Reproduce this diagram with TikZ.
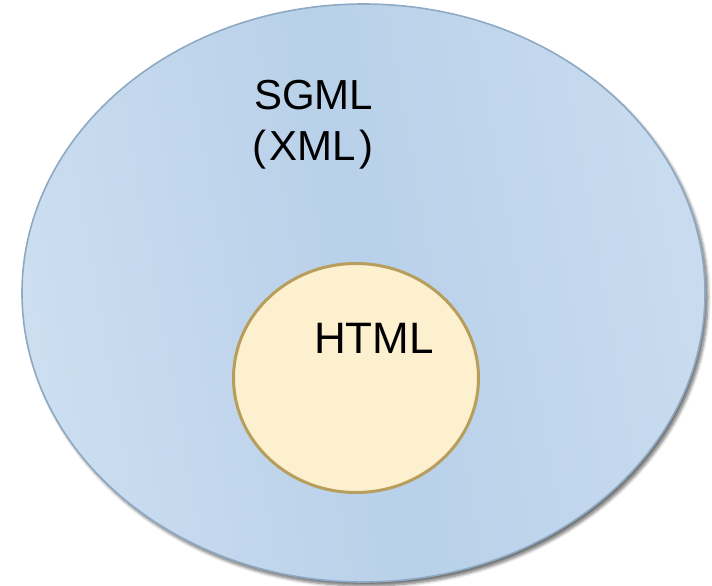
\documentclass[tikz,border=0pt]{standalone}
\usepackage{fontspec}
\setmainfont{Liberation Sans}
\usetikzlibrary{shapes.geometric,shadows.blur}
\definecolor{outerL}{HTML}{CCDEF0}
\definecolor{outerM}{HTML}{B8D0E9}
\definecolor{outerR}{HTML}{C9DCEF}
\definecolor{outerEdge}{HTML}{8EA9C4}
\definecolor{innerFill}{HTML}{FDF0CF}
\definecolor{innerEdge}{HTML}{B89E5C}
\tikzset{
  outerset/.style={ellipse, minimum width=683pt, minimum height=578pt,
    draw=outerEdge, line width=1.6pt,
    left color=outerL, right color=outerR, middle color=outerM, shading angle=100,
    blur shadow={shadow xshift=3pt, shadow yshift=-4pt, shadow blur steps=6, shadow blur radius=3pt, shadow opacity=55}},
  innerset/.style={ellipse, minimum width=245pt, minimum height=229pt,
    draw=innerEdge, line width=3pt, fill=innerFill},
  setlabel/.style={text=black, inner sep=0pt, anchor=base west}
}
\begin{document}
\begin{tikzpicture}[x=1pt, y=-1pt]
  \useasboundingbox (0,0) rectangle (712,586);
  \node[outerset] (sgml) at (363.5,293) {};
  \node[innerset] (html) at (356,378) {};
  \node[setlabel, font=\fontsize{42}{46}\selectfont] (sgmlname) at (254,109) {SGML};
  \node[setlabel, font=\fontsize{42}{46}\selectfont] (xmlname) at (252.5,160) {(\hspace{3pt}XML\hspace{3.5pt})};
  \node[setlabel, font=\fontsize{44}{48}\selectfont] (htmlname) at (314,353) {HTML};
\end{tikzpicture}
\end{document}
